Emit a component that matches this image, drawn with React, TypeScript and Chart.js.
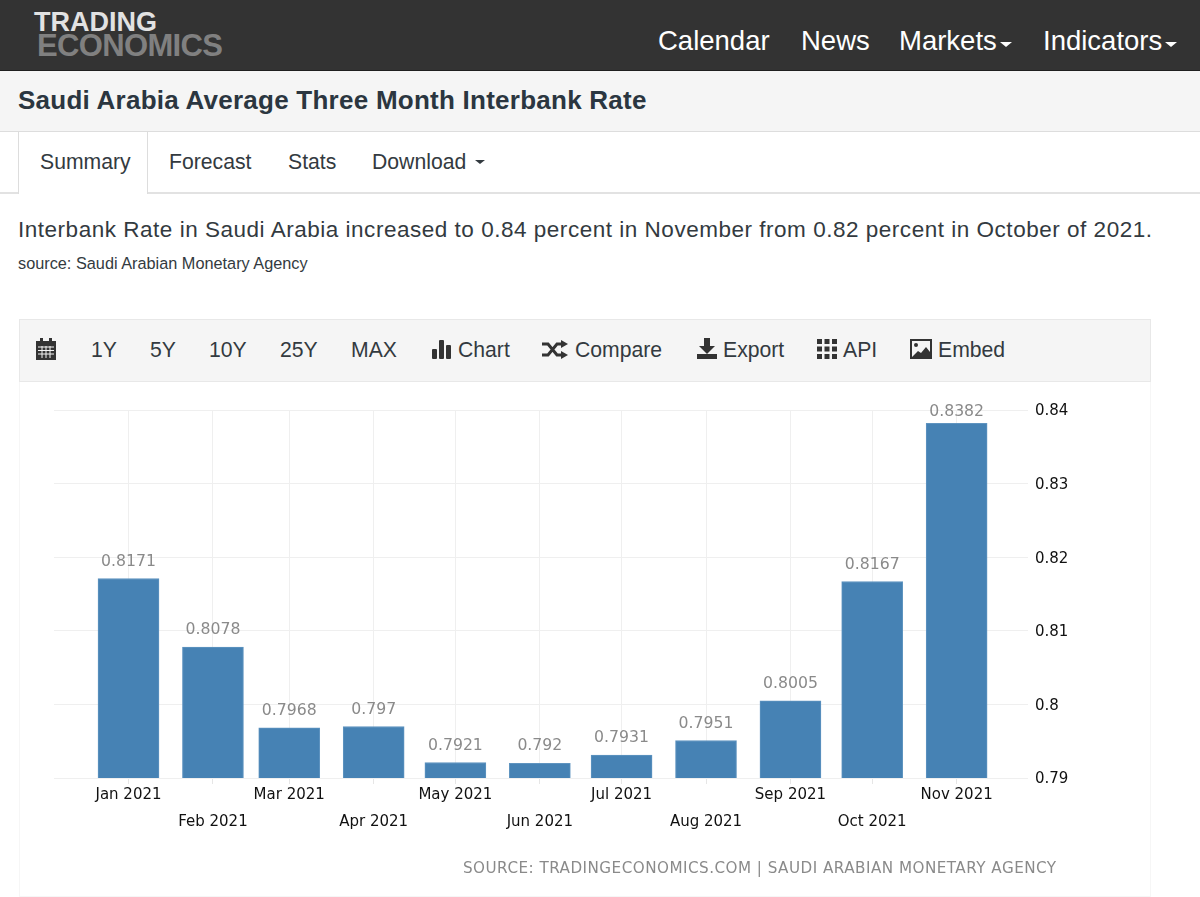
import React, { useEffect, useRef } from "react";
import { Chart, registerables } from "chart.js";

Chart.register(...registerables);

const periodDates = ["2021-01-01", "2021-02-01", "2021-03-01", "2021-04-01", "2021-05-01", "2021-06-01", "2021-07-01", "2021-08-01", "2021-09-01", "2021-10-01", "2021-11-01"];
const periodLabels = ["Jan 2021", "Feb 2021", "Mar 2021", "Apr 2021", "May 2021", "Jun 2021", "Jul 2021", "Aug 2021", "Sep 2021", "Oct 2021", "Nov 2021"];
const rateValues = [0.8171, 0.8078, 0.7968, 0.797, 0.7921, 0.792, 0.7931, 0.7951, 0.8005, 0.8167, 0.8382];

const DAY = 86400000;
const dayOf = (iso: string) => (Date.parse(iso + "T00:00:00Z") - Date.parse(periodDates[0] + "T00:00:00Z")) / DAY;
const dayValues = periodDates.map(dayOf);

const SANS = "'Liberation Sans', Arial, sans-serif";
const CHART_FONT = "'DejaVu Sans', sans-serif";

const valueLabels = {
  id: "valueLabels",
  afterDatasetsDraw(chart: any) {
    const { ctx, chartArea } = chart;
    const bars = chart.getDatasetMeta(0).data;
    ctx.save();
    ctx.font = `15.7px ${CHART_FONT}`;
    ctx.fillStyle = "#8a8a8a";
    ctx.textAlign = "center";
    ctx.textBaseline = "middle";
    bars.forEach((bar: any, i: number) => {
      ctx.fillText(String(rateValues[i]), bar.x, Math.max(bar.y - 17, chartArea.top + 2));
    });
    ctx.restore();
  },
};

function RateChart() {
  const ref = useRef<HTMLCanvasElement>(null);
  useEffect(() => {
    const chart = new Chart(ref.current as HTMLCanvasElement, {
      type: "bar",
      data: {
        datasets: [
          {
            data: dayValues.map((d, i) => ({ x: d, y: rateValues[i] })),
            backgroundColor: "#4682b4",
            borderColor: "#5f94c0",
            borderWidth: 1,
            barThickness: 61,
          },
        ],
      },
      options: {
        responsive: false,
        animation: false,
        devicePixelRatio: 1,
        layout: { padding: { top: 29, left: 34, right: 0, bottom: 0 } },
        plugins: { legend: { display: false }, tooltip: { enabled: false } },
        scales: {
          x: {
            type: "linear",
            offset: false,
            min: -27.35,
            max: 330.2,
            grid: { color: "#efefef", offset: false, drawTicks: true, tickLength: 6, tickColor: "#e6e6e6" },
            border: { display: false },
            afterBuildTicks: (axis: any) => {
              axis.ticks = dayValues.map((value) => ({ value }));
            },
            afterFit: (axis: any) => {
              axis.height = 119;
            },
            ticks: {
              autoSkip: false,
              maxRotation: 0,
              minRotation: 0,
              padding: -2,
              color: "#111111",
              font: { family: CHART_FONT, size: 15, lineHeight: 1.8 },
              callback: (_v: any, i: number) => (i % 2 === 0 ? periodLabels[i] : ["", periodLabels[i]]),
            },
          },
          y: {
            position: "right",
            min: 0.79,
            max: 0.84,
            grid: { color: "#efefef", drawTicks: false },
            border: { display: false },
            afterFit: (axis: any) => {
              axis.width = 122;
            },
            ticks: {
              stepSize: 0.01,
              padding: 7,
              color: "#111111",
              font: { family: CHART_FONT, size: 15, lineHeight: 0.2 },
              callback: (v: any) => ["", String(Number(Number(v).toFixed(2)))],
            },
          },
        },
      } as any,
      plugins: [valueLabels],
    });
    return () => chart.destroy();
  }, []);
  return <canvas ref={ref} width={1130} height={516} style={{ position: "absolute", left: 20, top: 381, display: "block" }} />;
}

function T(props: { x: number; y: number; size: number; color: string; text: string; bold?: boolean; ls?: number; font?: string; right?: number }) {
  return (
    <span
      style={{
        position: "absolute",
        left: props.x,
        top: props.y,
        transform: "translateY(-50%)",
        fontSize: props.size,
        color: props.color,
        fontWeight: props.bold ? 700 : 400,
        letterSpacing: props.ls ?? 0,
        fontFamily: props.font ?? SANS,
        whiteSpace: "nowrap",
        lineHeight: 1,
      }}
    >
      {props.text}
    </span>
  );
}

function Caret(props: { x: number; y: number; w: number; color: string }) {
  return (
    <div
      style={{
        position: "absolute",
        left: props.x,
        top: props.y,
        width: 0,
        height: 0,
        borderLeft: `${props.w / 2}px solid transparent`,
        borderRight: `${props.w / 2}px solid transparent`,
        borderTop: `${props.w / 2 - 1}px solid ${props.color}`,
      }}
    />
  );
}

function Box(props: { x: number; y: number; w: number; h: number; bg?: string; border?: string }) {
  return (
    <div
      style={{
        position: "absolute",
        left: props.x,
        top: props.y,
        width: props.w,
        height: props.h,
        background: props.bg,
        border: props.border,
        boxSizing: "border-box",
      }}
    />
  );
}

const ICON = "#333333";

function Icon(props: { x: number; y: number; w: number; h: number; children: React.ReactNode; vb: string }) {
  return (
    <svg style={{ position: "absolute", left: props.x, top: props.y }} width={props.w} height={props.h} viewBox={props.vb}>
      {props.children}
    </svg>
  );
}

const toolbarLabels = [
  { t: "1Y", x: 91 },
  { t: "5Y", x: 150 },
  { t: "10Y", x: 209 },
  { t: "25Y", x: 280 },
  { t: "MAX", x: 351 },
  { t: "Chart", x: 458 },
  { t: "Compare", x: 575 },
  { t: "Export", x: 723 },
  { t: "API", x: 843 },
  { t: "Embed", x: 938 },
];

export default function App() {
  return (
    <div style={{ position: "fixed", left: 0, top: 0, width: 1200, height: 897, overflow: "hidden", background: "#ffffff" }}>
      <Box x={0} y={0} w={1200} h={71} bg="#333333" />
      <Box x={0} y={70} w={1200} h={1} bg="#1f1f1f" />
      <T x={34} y={22} size={27} bold color="#e2e2e2" text="TRADING" ls={0} />
      <T x={37} y={45} size={31} bold color="#808080" text="ECONOMICS" ls={-0.65} />
      <T x={658} y={41} size={27.5} color="#ffffff" text="Calendar" />
      <T x={801} y={41} size={27.5} color="#ffffff" text="News" />
      <T x={899} y={41} size={27.5} color="#ffffff" text="Markets" />
      <Caret x={1000} y={42} w={12} color="#ffffff" />
      <T x={1043} y={41} size={27.5} color="#ffffff" text="Indicators" />
      <Caret x={1165} y={42} w={12} color="#ffffff" />

      <Box x={0} y={71} w={1200} h={61} bg="#f5f5f5" />
      <Box x={0} y={131} w={1200} h={1} bg="#dddddd" />
      <T x={18} y={100} size={26} bold color="#2b3640" ls={0.25} text="Saudi Arabia Average Three Month Interbank Rate" />

      <Box x={0} y={192} w={1200} h={2} bg="#e2e2e2" />
      <Box x={18} y={132} w={130} h={62} bg="#ffffff" />
      <Box x={18} y={132} w={1} h={62} bg="#dddddd" />
      <Box x={147} y={132} w={1} h={62} bg="#dddddd" />
      <T x={40} y={162} size={21.2} color="#333a40" text="Summary" />
      <T x={169} y={162} size={21.2} color="#333a40" text="Forecast" />
      <T x={288} y={162} size={21.2} color="#333a40" text="Stats" />
      <T x={372} y={162} size={21.2} color="#333a40" text="Download" />
      <Caret x={475} y={160} w={11} color="#333a40" />

      <T x={18} y={230} size={22.5} color="#333a40" ls={0.52} text="Interbank Rate in Saudi Arabia increased to 0.84 percent in November from 0.82 percent in October of 2021." />
      <T x={18} y={263} size={16.3} color="#333a40" text="source: Saudi Arabian Monetary Agency" />

      <Box x={19} y={381} w={1132} h={516} border="1px solid #f6f6f6" />
      <Box x={19} y={319} w={1132} h={63} bg="#f5f5f5" border="1px solid #e8e8e8" />
      {toolbarLabels.map((l) => (
        <T key={l.t} x={l.x} y={349.5} size={21.2} color="#333a40" text={l.t} />
      ))}

      <Icon x={36} y={338} w={20} h={22} vb="0 0 20 22">
        <rect x="0" y="3" width="20" height="19" fill={ICON} />
        <rect x="4" y="0" width="3" height="4" fill={ICON} />
        <rect x="13" y="0" width="3" height="4" fill={ICON} />
        <path d="M2 9h16M2 12.5h16M2 16h16M6 8v12M10 8v12M14 8v12" stroke="#f5f5f5" strokeWidth="1" />
      </Icon>
      <Icon x={432} y={340} w={20} h={19} vb="0 0 20 19">
        <rect x="0" y="9" width="5" height="10" rx="1" fill={ICON} />
        <rect x="7" y="0" width="5" height="19" rx="1" fill={ICON} />
        <rect x="14" y="5" width="5" height="14" rx="1" fill={ICON} />
      </Icon>
      <Icon x={542} y={340} w={26} h={19} vb="0 0 26 19">
        <path d="M0 4h6l9 11h5M0 15h6l9-11h5" fill="none" stroke={ICON} strokeWidth="3" />
        <path d="M19 0l7 4-7 4zM19 11l7 4-7 4z" fill={ICON} />
      </Icon>
      <Icon x={697} y={338} w={20} h={21} vb="0 0 20 21">
        <path d="M7 0h6v8h5l-8 8-8-8h5z" fill={ICON} />
        <rect x="0" y="16" width="20" height="5" fill={ICON} />
      </Icon>
      <Icon x={817} y={339} w={20} h={20} vb="0 0 20 20">
        {[0, 7.5, 15].map((a) =>
          [0, 7.5, 15].map((b) => <rect key={`${a}-${b}`} x={a} y={b} width="5" height="5" fill={ICON} />)
        )}
      </Icon>
      <Icon x={910} y={339} w={22} h={20} vb="0 0 22 20">
        <rect x="1" y="1" width="20" height="18" fill="#f5f5f5" stroke={ICON} strokeWidth="2" />
        <circle cx="6" cy="6" r="2" fill={ICON} />
        <path d="M2 18l6-6 3 2 5-6 4 5v5z" fill={ICON} />
      </Icon>

      <RateChart />

      <T x={463} y={869} size={15.2} color="#8a8a8a" ls={0.47} font={CHART_FONT} text="SOURCE: TRADINGECONOMICS.COM | SAUDI ARABIAN MONETARY AGENCY" />
    </div>
  );
}
